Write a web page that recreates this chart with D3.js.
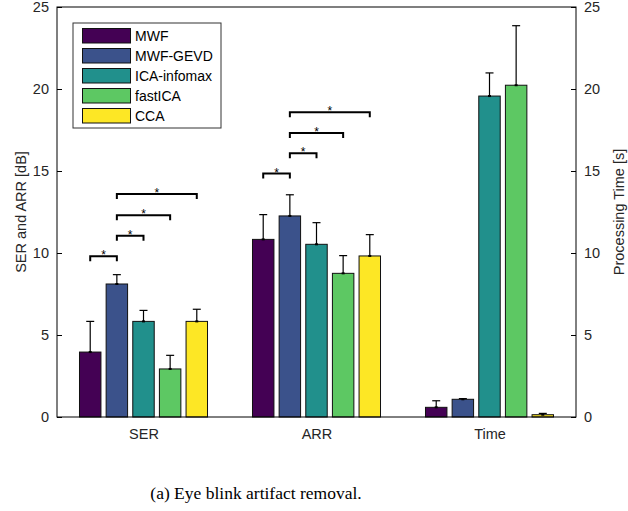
<!DOCTYPE html>
<html>
<head>
<meta charset="utf-8">
<script src="https://cdn.jsdelivr.net/npm/d3@7"></script>
<style>
  body { margin: 0; background: #fff; }
  svg text { font-family: "Liberation Sans", Arial, Helvetica, sans-serif; }
</style>
</head>
<body>
<div id="chart"></div>
<script>
// groups on the x axis
var categories = ["SER", "ARR", "Time"];
var methods = ["MWF", "MWF-GEVD", "ICA-infomax", "fastICA", "CCA"];
var colors = ["#440154", "#3b528b", "#21908c", "#5dc863", "#fde725"];

// mean values, one array per method (SER, ARR, Time)
var mwf      = [3.96, 10.83, 0.59];
var mwfGevd  = [8.11, 12.26, 1.08];
var icaInfo  = [5.83, 10.53, 19.57];
var fastIca  = [2.93, 8.76, 20.23];
var cca      = [5.83, 9.82, 0.14];

// upper error bars (std)
var mwfErr     = [1.87, 1.51, 0.40];
var mwfGevdErr = [0.57, 1.29, 0.04];
var icaInfoErr = [0.67, 1.32, 1.41];
var fastIcaErr = [0.83, 1.08, 3.63];
var ccaErr     = [0.74, 1.30, 0.08];

// significance brackets: [group, method a, method b, level]
var sigSER = [[0, 0, 1, 9.8], [0, 1, 2, 11.05], [0, 1, 3, 12.3], [0, 1, 4, 13.6]];
var sigARR = [[1, 0, 1, 14.84], [1, 1, 2, 16.08], [1, 1, 3, 17.32], [1, 1, 4, 18.58]];

var yTicks = [0, 5, 10, 15, 20, 25];

var means = [mwf, mwfGevd, icaInfo, fastIca, cca];
var errs = [mwfErr, mwfGevdErr, icaInfoErr, fastIcaErr, ccaErr];

var width = 628, height = 511;
var axL = 57, axR = 576, axT = 7, axB = 417;

var svg = d3.select("#chart").append("svg")
    .attr("width", width)
    .attr("height", height);

var x = d3.scaleLinear().domain([0.5, 3.5]).range([axL, axR]);
var y = d3.scaleLinear().domain([0, 25]).range([axB, axT]);

var step = 0.154, bw = 0.124;
function cx(g, m) { return x(g + 1 + (m - 2) * step); }

//
// bars
//
var bars = [];
means.forEach(function(arr, m) {
    arr.forEach(function(v, g) {
        bars.push({ g: g, m: m, v: v, e: errs[m][g] });
    });
});

svg.selectAll("rect.bar").data(bars).enter().append("rect")
    .attr("class", "bar")
    .attr("x", function(d) { return cx(d.g, d.m) - (x(bw) - x(0)) / 2; })
    .attr("width", x(bw) - x(0))
    .attr("y", function(d) { return y(d.v); })
    .attr("height", function(d) { return y(0) - y(d.v); })
    .attr("fill", function(d) { return colors[d.m]; })
    .attr("stroke", "#111")
    .attr("stroke-width", 1);

// error bars (upper only)
var eb = svg.selectAll("g.err").data(bars).enter().append("g")
    .attr("stroke", "#000").attr("stroke-width", 1.2);
eb.append("line")
    .attr("x1", function(d) { return cx(d.g, d.m); })
    .attr("x2", function(d) { return cx(d.g, d.m); })
    .attr("y1", function(d) { return y(d.v); })
    .attr("y2", function(d) { return y(d.v + d.e); });
eb.append("line")
    .attr("x1", function(d) { return cx(d.g, d.m) - 4; })
    .attr("x2", function(d) { return cx(d.g, d.m) + 4; })
    .attr("y1", function(d) { return y(d.v + d.e); })
    .attr("y2", function(d) { return y(d.v + d.e); });
eb.append("line")
    .attr("x1", function(d) { return cx(d.g, d.m) - 1.5; })
    .attr("x2", function(d) { return cx(d.g, d.m) + 1.5; })
    .attr("y1", function(d) { return y(d.v); })
    .attr("y2", function(d) { return y(d.v); })
    .attr("stroke-width", 2);

//
// significance brackets
//
var sig = sigSER.concat(sigARR);
var br = svg.selectAll("g.sig").data(sig).enter().append("g");
br.append("path")
    .attr("fill", "none")
    .attr("stroke", "#000")
    .attr("stroke-width", 2)
    .attr("d", function(d) {
        var x1 = cx(d[0], d[1]), x2 = cx(d[0], d[2]), yy = y(d[3]);
        return "M" + x1 + "," + (yy + 5) + "V" + yy + "H" + x2 + "V" + (yy + 5);
    });
br.append("text")
    .attr("x", function(d) { return (cx(d[0], d[1]) + cx(d[0], d[2])) / 2; })
    .attr("y", function(d) { return y(d[3]) + 3; })
    .attr("text-anchor", "middle")
    .style("font-size", "12px")
    .text("*");

//
// axes
//
svg.append("rect")
    .attr("x", axL).attr("y", axT)
    .attr("width", axR - axL).attr("height", axB - axT)
    .attr("fill", "none").attr("stroke", "#000").attr("stroke-width", 1);

var yl = d3.axisLeft(y).tickValues(yTicks).tickSize(-5).tickPadding(8);
var gl = svg.append("g").attr("transform", "translate(" + axL + ",0)").call(yl);
var yr = d3.axisRight(y).tickValues(yTicks).tickSize(-5).tickPadding(8);
var gr = svg.append("g").attr("transform", "translate(" + axR + ",0)").call(yr);
var xb = d3.axisBottom(x).tickValues([1, 2, 3])
    .tickFormat(function(d) { return categories[d - 1]; })
    .tickSize(0).tickPadding(12);
var gb = svg.append("g").attr("transform", "translate(0," + axB + ")").call(xb);

[gl, gr, gb].forEach(function(g) {
    g.select(".domain").remove();
    g.selectAll("text")
        .style("font-size", "14.5px")
        .style("font-family", "'Liberation Sans', Arial, sans-serif")
        .attr("fill", "#262626");
    g.selectAll("line").attr("stroke", "#000");
});

svg.append("text")
    .attr("transform", "translate(21," + ((axT + axB) / 2) + ") rotate(-90)")
    .attr("text-anchor", "middle")
    .attr("dy", "0.35em")
    .style("font-size", "14.5px")
    .attr("fill", "#262626")
    .text("SER and ARR [dB]");

svg.append("text")
    .attr("transform", "translate(619," + ((axT + axB) / 2) + ") rotate(-90)")
    .attr("text-anchor", "middle")
    .attr("dy", "0.35em")
    .style("font-size", "14.5px")
    .attr("fill", "#262626")
    .text("Processing Time [s]");

//
// legend
//
var lg = svg.append("g").attr("transform", "translate(73,23)");
lg.append("rect")
    .attr("width", 148).attr("height", 105)
    .attr("fill", "#fff").attr("stroke", "#333").attr("stroke-width", 1);
methods.forEach(function(name, i) {
    lg.append("rect")
        .attr("x", 9.5).attr("y", 5.5 + i * 20)
        .attr("width", 48).attr("height", 14.5)
        .attr("fill", colors[i]).attr("stroke", "#111").attr("stroke-width", 1);
    lg.append("text")
        .attr("x", 62).attr("y", 13 + i * 20)
        .attr("dy", "0.35em")
        .style("font-size", "14px")
        .attr("fill", "#000")
        .text(name);
});

// caption
svg.append("text")
    .attr("x", 256).attr("y", 499)
    .attr("text-anchor", "middle")
    .style("font-family", "'Liberation Serif', 'Times New Roman', serif")
    .style("font-size", "17.5px")
    .text("(a) Eye blink artifact removal.");
</script>
</body>
</html>
